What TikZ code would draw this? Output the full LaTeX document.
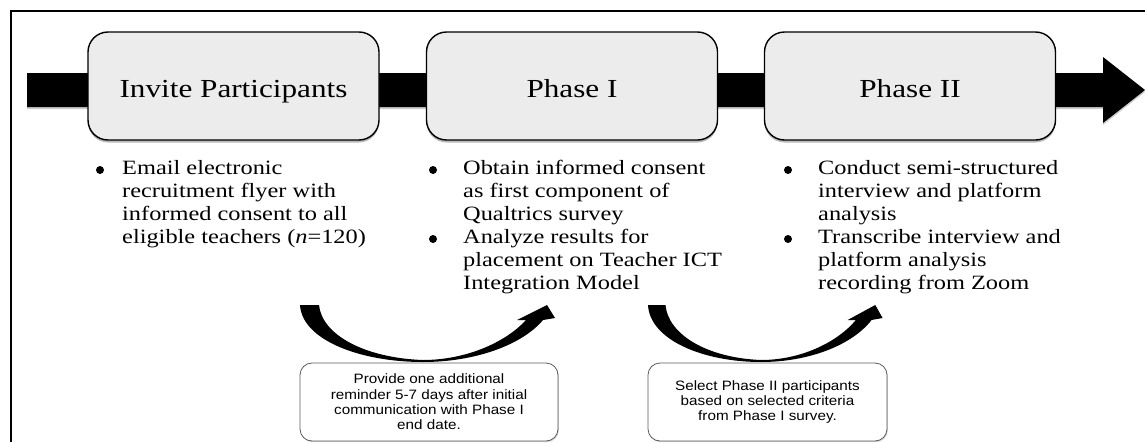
\documentclass[tikz,border=0pt]{standalone}
\usepackage{fontspec}
\newfontfamily\bodyfont[FakeStretch=1.2]{Liberation Serif}
\newfontfamily\boxfont[FakeStretch=1.12]{Liberation Sans}
\usetikzlibrary{shadows}
\definecolor{boxfill}{RGB}{236,236,236}
\definecolor{noteborder}{RGB}{90,90,90}
\tikzset{
  phasebox/.style={draw=black, line width=1.4pt, fill=boxfill, rounded corners=20pt,
    minimum width=291pt, minimum height=108pt, inner sep=0pt,
    drop shadow={shadow xshift=0pt, shadow yshift=-2.5pt, opacity=0.55}},
  phasetitle/.style={anchor=base, inner sep=0pt, font={\bodyfont\fontsize{26}{30}\selectfont}},
  bullettext/.style={anchor=north west, align=left, inner sep=0pt,
    font={\bodyfont\fontsize{20.3}{23}\selectfont}, execute at begin node=\strut},
  bulletdot/.style={circle, fill=black, minimum size=8pt, inner sep=0pt},
  notebox/.style={draw=noteborder, line width=0.8pt, fill=white, rounded corners=12pt,
    inner sep=0pt, align=center, font={\boxfont\fontsize{13.6}{15.4}\selectfont},
    drop shadow={shadow xshift=0.8pt, shadow yshift=-1.2pt, opacity=0.35}},
  curvearrow/.style={fill=black}
}
\begin{document}
\begin{tikzpicture}[x=1pt,y=-1pt]
\useasboundingbox (0,0) rectangle (1145,442);
% frame
\draw[line width=2pt] (11,442) -- (11,11) -- (1145,11);
% big timeline arrow
\fill[black, drop shadow={shadow xshift=0pt, shadow yshift=-2pt, opacity=0.4}]
  (27,73) -- (1103,73) -- (1103,57) -- (1145,90) -- (1103,123) -- (1103,107) -- (27,107) -- cycle;
% phase boxes
\node[phasebox] (b1) at (233.5,86) {};
\node[phasebox] (b2) at (572,86) {};
\node[phasebox] (b3) at (910,86) {};
\node[phasetitle] (t1) at (233.5,97) {Invite Participants};
\node[phasetitle] (t2) at (572,97) {Phase I};
\node[phasetitle] (t3) at (910,97) {Phase II};
% bullets column 1
\node[bulletdot] (d1) at (100,170) {};
\node[bullettext] (l1) at (122,160) {Email electronic\\recruitment flyer with\\informed consent to all\\eligible teachers (\textit{n}=120)};
% bullets column 2
\node[bulletdot] (d2a) at (433,170) {};
\node[bullettext] (l2a) at (463,160) {Obtain informed consent\\as first component of\\Qualtrics survey};
\node[bulletdot] (d2b) at (433,239) {};
\node[bullettext] (l2b) at (463,229) {Analyze results for\\placement on Teacher ICT\\Integration Model};
% bullets column 3
\node[bulletdot] (d3a) at (788,170) {};
\node[bullettext] (l3a) at (818,160) {Conduct semi-structured\\interview and platform\\analysis};
\node[bulletdot] (d3b) at (788,239) {};
\node[bullettext] (l3b) at (818,229) {Transcribe interview and\\platform analysis\\recording from Zoom};
% curved arrows
\begin{scope}[shift={(300,305)}]
\fill[curvearrow] (0,0) .. controls (2,35) and (60,57) .. (123,57)
  .. controls (175,57) and (222,40) .. (243,15) -- (255,13) -- (247,0) -- (217,15) -- (226,15)
  .. controls (205,38) and (165,55) .. (123,55)
  .. controls (65,53) and (22,30) .. (19,0) -- cycle;
\end{scope}
\begin{scope}[shift={(648,305)}, xscale=0.92]
\fill[curvearrow] (0,0) .. controls (2,35) and (60,57) .. (123,57)
  .. controls (175,57) and (222,40) .. (243,15) -- (255,13) -- (247,0) -- (217,15) -- (226,15)
  .. controls (205,38) and (165,55) .. (123,55)
  .. controls (65,53) and (22,30) .. (19,0) -- cycle;
\end{scope}
% note boxes
\node[notebox, minimum width=258pt, minimum height=78pt] (n1) at (429,402)
  {Provide one additional\\reminder 5-7 days after initial\\communication with Phase I\\end date.};
\node[notebox, minimum width=239pt, minimum height=78pt] (n2) at (767.5,402)
  {Select Phase II participants\\based on selected criteria\\from Phase I survey.};
\end{tikzpicture}
\end{document}
